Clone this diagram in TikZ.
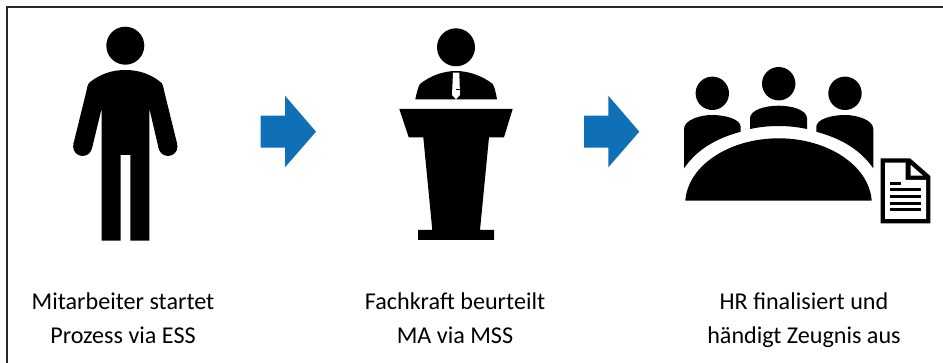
\documentclass[tikz,border=0pt]{standalone}
\usepackage{fontspec}
\setmainfont{Carlito}
\usetikzlibrary{calc}
\definecolor{arrowblue}{HTML}{0F70B7}
\definecolor{framegray}{HTML}{262626}
\tikzset{
  icon/.style={fill=black,draw=none},
  paper/.style={fill=white,draw=none},
  flowarrow/.style={fill=arrowblue,draw=none},
  caption/.style={font=\fontsize{18.1}{18.1}\selectfont,text=black,inner sep=0pt,anchor=base},
}
\begin{document}
\begin{tikzpicture}[x=0.75pt,y=-0.75pt]
\useasboundingbox (0,0) rectangle (943,363);
% ==========================================
\draw [framegray,line width=1.5pt] (6.7,363)--(6.7,6.7)--(943,6.7);
% ==========================================
% Employee
\fill [icon] (125.3,45.7) circle [radius=19];
\fill [icon] (86.7,90) .. controls (87.5,85.5) and (88,84) .. (89.3,82.7)
 .. controls (100,74) and (112,70) .. (125.3,70)
 .. controls (138.6,70) and (151,74) .. (161.3,82.7)
 .. controls (162.6,84) and (163.1,85.5) .. (163.9,90) -- cycle;
\fill [icon] plot coordinates {(86.7,90)(163.9,90)(177.2,144)(158.8,149)(149.3,108.3)(149.3,240.7)(130.3,240.7)(130.3,155)(120.7,155)(120.7,240.7)(101.7,240.7)(101.7,108.3)(91.8,149)(73.4,144)};
\fill [icon] (82.6,146.5) circle [radius=9.5] (168,146.5) circle [radius=9.5];
% ==========================================
% Speaker
\fill [icon] (456,47.3) circle [radius=19];
\fill [icon] (415.3,99.3) .. controls (417,92) and (418,87) .. (420,84)
 .. controls (430,76) and (443,71) .. (456,71)
 .. controls (469,71) and (482.7,76) .. (492.7,84)
 .. controls (494.7,87) and (495.6,92) .. (497,99.3) -- cycle;
\fill [paper] (453,72.7)--(459.3,72.7)--(460,95)--(456,99.3)--(452,95)--cycle;
\fill [icon] (456,88.7) rectangle (459.5,90);
\fill [icon] (399.3,109)--(512.7,109)--(504,137.3)--(489,137.3)--(480,230)--(494,230)--(494,240)--(418,240)--(418,230)--(432.3,230)--(423.3,137.3)--(408.7,137.3)--cycle;
% ==========================================
% Meeting
\foreach \hx/\hy in {712.3/93.3,778.7/83.7,845/93.3}
  \fill [icon] (\hx,\hy) circle [radius=16.7];
\fill [icon] (684,168.3)--(684,129) .. controls (684,120) and (700,115) .. (711.7,115)
 .. controls (725,115) and (740.7,119) .. (740.7,127)--(740.7,131.7)
 .. controls (718,138) and (698,148) .. cycle;
\fill [icon] (873.3,168.3)--(873.3,129) .. controls (873.3,120) and (857,115) .. (845,115)
 .. controls (832,115) and (816.3,119) .. (816.3,127)--(816.3,131.7)
 .. controls (839,138) and (859,148) .. cycle;
\fill [icon] (750,129)--(750,118.3) .. controls (750,110) and (765,105.7) .. (778.7,105.7)
 .. controls (792,105.7) and (807,110) .. (807,118.3)--(807,129)
 .. controls (788,125) and (769,125) .. cycle;
\fill [icon] (685.3,200.7) .. controls (688,165) and (730,138.3) .. (778.7,138.3)
 .. controls (827,138.3) and (869,165) .. (871.7,200.7) -- cycle;
% ==========================================
% Document
\fill [icon] (880.7,158.3)--(910,158.3)--(930.3,176)--(930.3,223.3)--(880.7,223.3)--cycle;
\fill [paper] (885,162.7)--(905.7,162.7)--(905.7,180)--(926,180)--(926,219)--(885,219)--cycle;
\fill [paper] (910.7,165)--(923,175.7)--(910.7,175.7)--cycle;
\fill [icon] (890,182.2) rectangle (900.7,185.2);
\foreach \ly in {190,196.7,203.3,210}
  \fill [icon] (890,\ly-1.5) rectangle (920.7,\ly+1.5);
% ==========================================
% Arrows
\foreach \ax in {0,323.3}
  \fill [flowarrow] plot coordinates {(260.7+\ax,115.7)(285+\ax,115.7)(285+\ax,95.7)(316+\ax,131.7)(285+\ax,167.3)(285+\ax,147.7)(260.7+\ax,147.7)};
% ==========================================
\node [caption] (startA) at (123,310) {Mitarbeiter startet};
\node [caption] (startB) at (123,344) {Prozess via ESS};
\node [caption] (rateA) at (455,310) {Fachkraft beurteilt};
\node [caption] (rateB) at (455,344) {MA via MSS};
\node [caption] (handA) at (804,310) {HR finalisiert und};
\node [caption] (handB) at (804,344) {händigt Zeugnis aus};
% =============================================
\end{tikzpicture}
\end{document}
